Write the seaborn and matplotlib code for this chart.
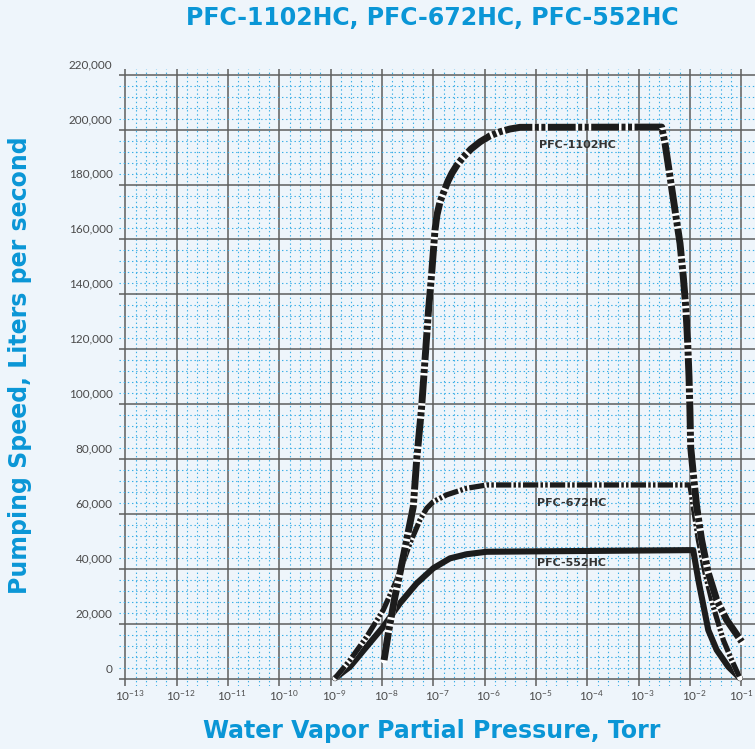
import numpy as np
import pandas as pd
import seaborn as sns
import matplotlib.pyplot as plt
import matplotlib.transforms as mtransforms
from matplotlib.ticker import FixedLocator, FuncFormatter, LogFormatterMathtext

# pressure (Torr) / pumping speed (l/s)
p1102 = [1.10e-8, 1.33e-8, 1.79e-8, 2.25e-8, 3.03e-8, 4.08e-8, 4.75e-8, 5.94e-8, 6.90e-8,
         8.00e-8, 9.31e-8, 1.08e-7, 1.18e-7, 1.35e-7, 1.57e-7, 1.94e-7, 2.32e-7, 2.90e-7,
         3.85e-7, 5.43e-7, 8.13e-7, 1.27e-6, 2.0e-6, 3.13e-6, 4.89e-6,
         2.82e-3, 3.27e-3, 4.09e-3, 5.12e-3, 6.41e-3, 7.43e-3, 8.38e-3, 9.06e-3, 9.60e-3,
         1.00e-2, 1.035e-2, 1.16e-2, 1.355e-2, 1.69e-2, 2.28e-2, 3.32e-2, 5.20e-2, 1.02e-1]
s1102 = [7000, 16700, 30000, 38700, 50700, 62800, 79800, 99200, 116200,
         133200, 147700, 163400, 168900, 173600, 176900, 181300, 184200, 187100,
         190000, 192900, 195500, 197700, 199200, 200200, 200800,
         200900, 195000, 182900, 170700, 158600, 146500, 134400, 122200, 110100,
         98000, 84600, 75000, 62800, 50700, 38700, 28900, 21600, 13700]

p672 = [1.22e-9, 2.39e-9, 5.05e-9, 1.06e-8, 1.94e-8, 3.52e-8, 5.51e-8, 7.45e-8, 1.0e-7,
        1.82e-7, 4.48e-7, 1.10e-6, 1.0e-2, 1.16e-2, 1.46e-2, 1.97e-2, 2.85e-2, 4.47e-2,
        6.52e-2, 9.44e-2]
s672 = [400, 7000, 15500, 25200, 36100, 49500, 58000, 62200, 64600,
        67100, 69500, 70700, 70700, 62800, 50700, 38700, 26400, 14300,
        7000, 400]

p552 = [1.22e-9, 2.39e-9, 5.05e-9, 1.06e-8, 2.25e-8, 4.75e-8, 1.0e-7, 2.12e-7, 4.48e-7,
        1.10e-6, 1.16e-2, 1.46e-2, 2.28e-2, 3.32e-2, 5.58e-2, 9.44e-2]
s552 = [400, 4600, 11900, 19100, 27700, 34900, 40400, 44000, 45500,
        46400, 47000, 36100, 17900, 10700, 4600, 400]

yticks = list(range(0, 220001, 20000))
xdecades = list(range(-13, 0))

bg = '#eef5fb'
blue = '#0a96d6'

sns.set_style('white')
plt.rcParams['font.family'] = ['Lato', 'DejaVu Sans']
plt.rcParams['mathtext.fontset'] = 'custom'
plt.rcParams['mathtext.rm'] = 'Lato'
plt.rcParams['mathtext.it'] = 'Lato:italic'
plt.rcParams['mathtext.bf'] = 'Lato:bold'
plt.rcParams['lines.scale_dashes'] = False

fig = plt.figure(figsize=(7.55, 7.49), dpi=100, facecolor=bg)
ax = fig.add_axes([0.158, 0.0841, 0.842, 0.8238])
ax.set_facecolor(bg)
ax.set_xscale('log')

df1 = pd.DataFrame({'p': p1102, 's': s1102})
df2 = pd.DataFrame({'p': p672, 's': s672})
df3 = pd.DataFrame({'p': p552, 's': s552})

sns.lineplot(data=df3, x='p', y='s', ax=ax, color='#1c1c1c', lw=4.4,
             estimator=None, sort=False, clip_on=False, zorder=3)
sns.lineplot(data=df2, x='p', y='s', ax=ax, color='white', lw=3.8,
             estimator=None, sort=False, clip_on=False, zorder=4)
sns.lineplot(data=df2, x='p', y='s', ax=ax, color='#1c1c1c', lw=3.8,
             linestyle=(0, (11, 1.6, 1.8, 1.6, 1.8, 1.6)),
             estimator=None, sort=False, clip_on=False, zorder=5)
sns.lineplot(data=df1, x='p', y='s', ax=ax, color='white', lw=5.0,
             estimator=None, sort=False, clip_on=False, zorder=6)
sns.lineplot(data=df1, x='p', y='s', ax=ax, color='#1c1c1c', lw=5.0,
             linestyle=(0, (20, 1.8, 2.9, 1.8, 2.9, 1.8)),
             estimator=None, sort=False, clip_on=False, zorder=7)

ax.set_xlim(10 ** -13.117, 10 ** -0.732)
ax.set_ylim(-2440, 222030)

ax.xaxis.set_major_locator(FixedLocator([10.0 ** k for k in xdecades]))
ax.xaxis.set_minor_locator(FixedLocator([10.0 ** (k + j / 5) for k in xdecades[:-1] for j in range(1, 5)]))
ax.xaxis.set_major_formatter(LogFormatterMathtext())
ax.yaxis.set_major_locator(FixedLocator(yticks))
ax.yaxis.set_minor_locator(FixedLocator([v for v in range(0, 220001, 4000) if v % 20000]))
ax.yaxis.set_major_formatter(FuncFormatter(lambda v, pos: f'{int(v):,}'))

ax.grid(which='major', color='#5e5e5e', lw=1.1)
ax.grid(which='minor', color='#3aaee6', lw=0.8, linestyle=(0, (1.0, 2.0)))
ax.set_axisbelow(True)
for sp in ax.spines.values():
    sp.set_visible(False)
ax.tick_params(which='both', length=0)
ax.tick_params(axis='y', labelsize=8.5, labelcolor='#4a4a4a', pad=4.8)
ax.tick_params(axis='x', labelsize=8.5, labelcolor='#4a4a4a', pad=1.5)
ax.set_xlabel('')
ax.set_ylabel('')

yoff = mtransforms.ScaledTranslation(0, 8 / 72, fig.dpi_scale_trans)
for lab in ax.get_yticklabels():
    lab.set_transform(lab.get_transform() + yoff)
xoff = mtransforms.ScaledTranslation(3 / 72, 0, fig.dpi_scale_trans)
for lab in ax.get_xticklabels()[:-1]:
    lab.set_transform(lab.get_transform() + xoff)

lab_kw = dict(ha='center', va='center', fontsize=8, fontweight='bold', color='#333333',
              family='DejaVu Sans', zorder=8)
ax.text(10 ** -4.19, 194400, 'PFC-1102HC', **lab_kw)
ax.text(10 ** -4.30, 64100, 'PFC-672HC', **lab_kw)
ax.text(10 ** -4.30, 42300, 'PFC-552HC', **lab_kw)

big = dict(ha='center', va='center', fontsize=17, fontweight='bold', color=blue, family='DejaVu Sans')
fig.text(432 / 755, 1 - 18 / 749, 'PFC-1102HC, PFC-672HC, PFC-552HC', **big)
fig.text(432 / 755, 1 - 731 / 749, 'Water Vapor Partial Pressure, Torr', **big)
fig.text(20 / 755, 1 - 365 / 749, 'Pumping Speed, Liters per second', rotation=90, **big)

fig.savefig('out.png', dpi=100, facecolor=bg)
